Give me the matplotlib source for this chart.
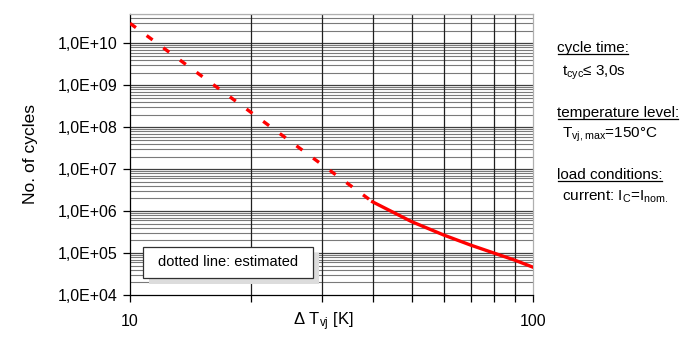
import numpy as np
import matplotlib.pyplot as plt
from matplotlib.ticker import FixedLocator, FuncFormatter, NullFormatter
from matplotlib.patches import Rectangle

plt.rcParams['font.family'] = ['Liberation Sans', 'DejaVu Sans']
plt.rcParams['mathtext.default'] = 'regular'

# data
dT_est = [10, 40]
N_est = [3.0e10, 1.66e6]
dT_meas = [40, 50, 60, 70, 80, 90, 100]
N_meas = [1.66e6, 5.6e5, 2.7e5, 1.55e5, 1.0e5, 6.8e4, 4.6e4]

y_major = [1e4, 1e5, 1e6, 1e7, 1e8, 1e9, 1e10]
x_grid = [20, 30, 40, 50, 60, 70, 80, 90]

fig = plt.figure(figsize=(6.92, 3.46), dpi=100)
ax = fig.add_axes([130 / 692, 51 / 346, 403 / 692, 281 / 346])

ax.set_xscale('log')
ax.set_yscale('log')
ax.set_xlim(10, 100)
ax.set_ylim(1e4, 5e10)

# grid
y_minor = [m * 10 ** d for d in range(4, 11) for m in range(2, 10) if m * 10 ** d <= 5e10]
for v in y_minor:
    ax.axhline(v, color='#7a7a7a', lw=0.8, zorder=1)
for v in y_major[1:]:
    ax.axhline(v, color='#404040', lw=0.9, zorder=1)
for v in x_grid:
    ax.axvline(v, color='#202020', lw=0.9, zorder=1)

# curves
ax.plot(dT_est, N_est, color='#ff0000', lw=2.4, dashes=(2.2, 4.0), zorder=3)
ax.plot(dT_meas, N_meas, color='#ff0000', lw=2.4, zorder=3)

# ticks
ax.yaxis.set_major_locator(FixedLocator(y_major))
ax.yaxis.set_minor_locator(FixedLocator([]))
ax.yaxis.set_major_formatter(FuncFormatter(lambda v, p: '1,0E+%02d' % round(np.log10(v))))
ax.xaxis.set_major_locator(FixedLocator([10, 100]))
ax.xaxis.set_minor_locator(FixedLocator(x_grid))
ax.xaxis.set_major_formatter(FuncFormatter(lambda v, p: '%d' % v))
ax.xaxis.set_minor_formatter(NullFormatter())
ax.tick_params(axis='y', which='major', direction='out', length=5, width=0.9,
               labelsize=11.5, pad=4, colors='black')
ax.tick_params(axis='x', which='both', direction='out', length=5, width=0.9,
               labelsize=11.5, pad=9)

for s in ['left', 'bottom']:
    ax.spines[s].set_color('black')
    ax.spines[s].set_linewidth(0.9)
for s in ['top', 'right']:
    ax.spines[s].set_color('#b0b0b0')
    ax.spines[s].set_linewidth(0.9)

ax.set_ylabel('No. of cycles', fontsize=12.5, va='center')
ax.yaxis.set_label_coords((31 - 130) / 403, 0.5)
ax.set_xlabel('\u0394 T$_{vj}$ [K]', fontsize=12, va='center')
ax.xaxis.set_label_coords((323 - 130) / 403, (295 - 322) / 281)

# note box with shadow
bx0, by0, bw, bh = 143, 68, 170, 31  # pixels from bottom-left of figure
shadow = Rectangle(((bx0 + 6) / 692, (by0 - 6) / 346), bw / 692, bh / 346,
                   transform=fig.transFigure, facecolor='#dcdcdc', edgecolor='none', zorder=4)
box = Rectangle((bx0 / 692, by0 / 346), bw / 692, bh / 346,
                transform=fig.transFigure, facecolor='white', edgecolor='#303030', lw=0.9, zorder=5)
fig.patches.extend([shadow, box])
fig.text((bx0 + bw / 2) / 692, (by0 + bh / 2) / 346, 'dotted line: estimated',
         ha='center', va='center', fontsize=10.5, zorder=6)

# conditions text on the right
headers = [('cycle time:', 52), ('temperature level:', 117), ('load conditions:', 179)]
values = [('t$_{cyc}$\u2264 3,0s', 76), ('T$_{vj,max}$=150\u00b0C', 138),
          ('current: I$_C$=I$_{nom.}$', 201)]
for s, y in headers:
    t = fig.text(557 / 692, 1 - y / 346, s, fontsize=11, va='baseline', ha='left')
for s, y in values:
    fig.text(562 / 692, 1 - y / 346, s, fontsize=11, va='baseline', ha='left')

fig.canvas.draw()
r = fig.canvas.get_renderer()
for s, y in headers:
    t = [tt for tt in fig.texts if tt.get_text() == s][0]
    bb = t.get_window_extent(r)
    yl = (346 - y - 2) / 346
    fig.add_artist(plt.Line2D([(bb.x0 + 1) / 692, (bb.x1 - 1) / 692], [yl, yl],
                              transform=fig.transFigure, color='black', lw=0.9))

fig.savefig('out.png', dpi=100)
